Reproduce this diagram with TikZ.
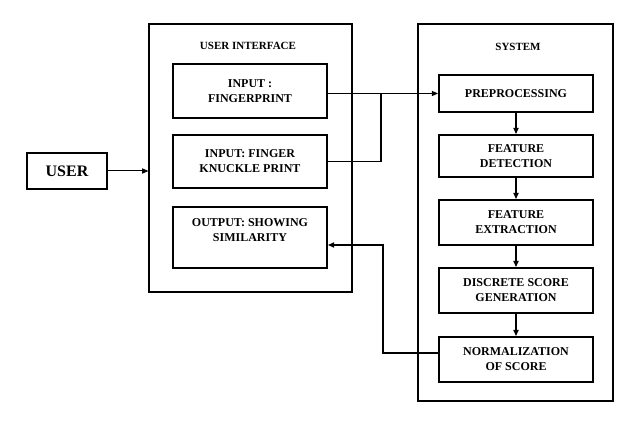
\documentclass[tikz,border=0pt]{standalone}
\usepackage{fontspec}
\setmainfont{Liberation Serif}
\usetikzlibrary{positioning,arrows.meta,calc}
\tikzset{
  flowarrow/.style={-{Triangle[length=2.2mm,width=1.8mm]}, line width=1pt},
  heavyarrow/.style={-{Triangle[length=2.2mm,width=1.8mm]}, line width=1.8pt},
  heavyline/.style={line width=1.8pt},
  groupbox/.style={draw, line width=1.1pt, inner sep=0pt},
  stepbox/.style={draw, line width=1.8pt, minimum width=154pt, align=center, font=\fontsize{12}{15}\selectfont\bfseries},
  grouplabel/.style={font=\fontsize{11}{13}\selectfont\bfseries}
}
\begin{document}
\begin{tikzpicture}[x=1pt, y=-1pt]
  \useasboundingbox (0,0) rectangle (621,422);
  % user side
  \node[draw, line width=1.8pt, minimum width=80pt, minimum height=36pt, font=\fontsize{16}{18}\selectfont\bfseries] (user) at (67,171) {USER};
  \node[groupbox, minimum width=203pt, minimum height=268pt] (ui) at (250.5,158) {};
  \node[grouplabel] (uilabel) at (248,46) {USER INTERFACE};
  \node[stepbox, minimum height=54pt] (fp) at (250,91) {INPUT :\\FINGERPRINT};
  \node[stepbox, minimum height=53pt] (fkp) at (250,161.5) {INPUT: FINGER\\KNUCKLE PRINT};
  \node[stepbox, minimum height=61pt] (out) at (250,237.5) {OUTPUT: SHOWING\\SIMILARITY\\\mbox{}};
  % system side
  \node[groupbox, minimum width=195pt, minimum height=377pt] (sys) at (515.5,212.5) {};
  \node[grouplabel] (syslabel) at (518,47) {SYSTEM};
  \node[stepbox, minimum height=37pt] (pre) at (516,93.5) {PREPROCESSING};
  \node[stepbox, minimum height=42pt] (fd) at (516,156) {FEATURE\\DETECTION};
  \node[stepbox, minimum height=45pt] (fe) at (516,222.5) {FEATURE\\EXTRACTION};
  \node[stepbox, minimum height=45pt] (ds) at (516,290.5) {DISCRETE SCORE\\GENERATION};
  \node[stepbox, minimum height=45pt] (norm) at (516,359.5) {NORMALIZATION\\OF SCORE};
  \coordinate (join) at (381,93.5);
  \coordinate (back) at (383,353);
  \coordinate (outin) at ($(out.east)+(0,7.5)$);
  % connectors
  \draw[flowarrow] (user.east) -- (user.east -| ui.west);
  \draw[flowarrow] (fp.east |- pre.west) -- (pre.west);
  \draw[heavyline] (fkp.east) -| (join);
  \draw[heavyarrow] (pre) -- (fd);
  \draw[heavyarrow] (fd) -- (fe);
  \draw[heavyarrow] (fe) -- (ds);
  \draw[heavyarrow] (ds) -- (norm);
  \draw[heavyarrow] (norm.west |- back) -- (back) |- (outin);
\end{tikzpicture}
\end{document}
